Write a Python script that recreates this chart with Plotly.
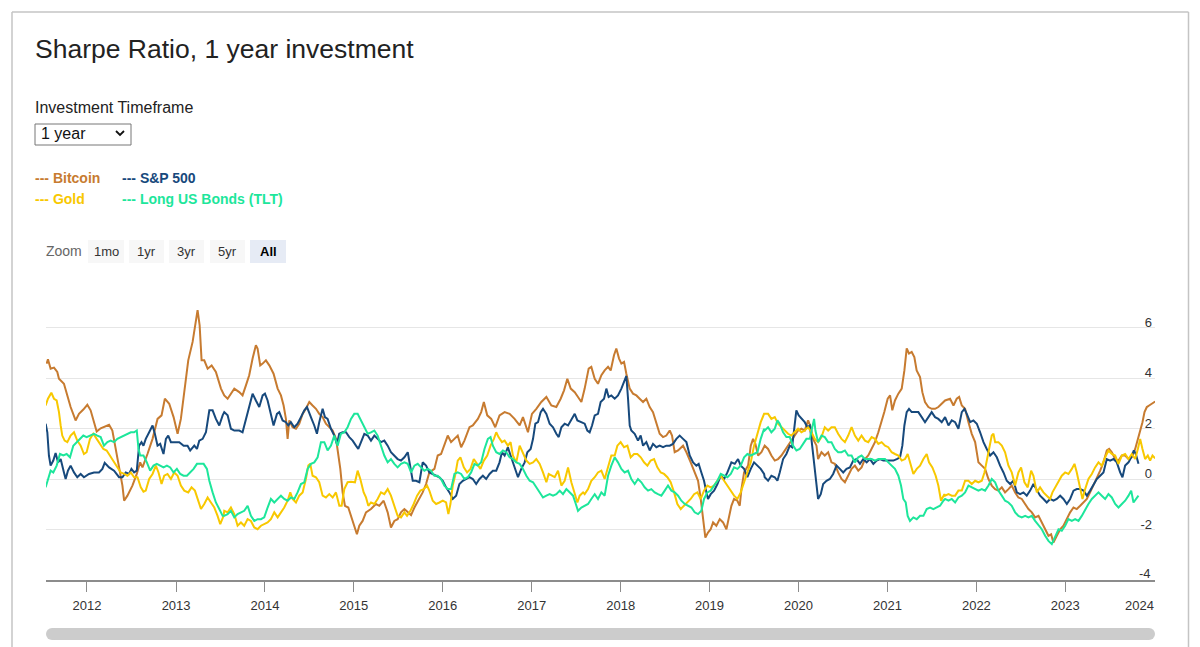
import pandas as pd
import plotly.graph_objects as go

# ---------------- data (decimal years, Sharpe ratio) ----------------
btc_t = [2011.546, 2011.561, 2011.591, 2011.629, 2011.666, 2011.685, 2011.741, 2011.779, 2011.816, 2011.872,
         2011.91, 2011.959, 2012.004, 2012.041, 2012.079, 2012.109, 2012.154, 2012.248, 2012.285, 2012.323,
         2012.372, 2012.398, 2012.417, 2012.454, 2012.51, 2012.559, 2012.597, 2012.623, 2012.679, 2012.736,
         2012.792, 2012.837, 2012.874, 2012.923, 2012.972, 2013.017, 2013.054, 2013.092, 2013.137, 2013.186,
         2013.223, 2013.242, 2013.265, 2013.287, 2013.317, 2013.355, 2013.40, 2013.448, 2013.505,
         2013.542, 2013.58, 2013.617, 2013.655, 2013.711, 2013.748, 2013.786, 2013.823, 2013.861, 2013.898,
         2013.917, 2013.947, 2013.974, 2014.011, 2014.049, 2014.097, 2014.143, 2014.18, 2014.21, 2014.236,
         2014.255, 2014.274, 2014.311, 2014.349, 2014.386, 2014.424, 2014.461, 2014.499, 2014.536, 2014.574,
         2014.611, 2014.649, 2014.686, 2014.724, 2014.762, 2014.8, 2014.825, 2014.848, 2014.874, 2014.9,
         2014.938, 2014.968, 2015.005, 2015.035, 2015.062, 2015.099, 2015.137, 2015.193, 2015.249, 2015.287,
         2015.336, 2015.381, 2015.418, 2015.456, 2015.493, 2015.531,
         2015.569, 2015.607, 2015.644, 2015.682, 2015.738, 2015.775, 2015.813, 2015.85, 2015.907, 2015.944,
         2015.982, 2016.019, 2016.057, 2016.094, 2016.132, 2016.169, 2016.207, 2016.244, 2016.301, 2016.338,
         2016.395, 2016.432, 2016.462, 2016.5, 2016.545, 2016.59, 2016.638, 2016.695, 2016.751, 2016.807,
         2016.864, 2016.901, 2016.957, 2017.002, 2017.051, 2017.107, 2017.164, 2017.22, 2017.276, 2017.325,
         2017.363, 2017.4, 2017.438, 2017.483, 2017.52, 2017.558,
         2017.595, 2017.64, 2017.67, 2017.708, 2017.745, 2017.783, 2017.82, 2017.858, 2017.888, 2017.925,
         2017.951, 2017.982, 2018.008, 2018.038, 2018.064, 2018.102, 2018.139, 2018.177, 2018.214, 2018.252,
         2018.289, 2018.327, 2018.364, 2018.402, 2018.439, 2018.477, 2018.514, 2018.552, 2018.578, 2018.608,
         2018.646, 2018.702, 2018.74, 2018.788, 2018.833, 2018.871, 2018.901, 2018.927, 2018.953, 2018.983,
         2019.013, 2019.04, 2019.077, 2019.115, 2019.152, 2019.19, 2019.216, 2019.246, 2019.276, 2019.313,
         2019.34, 2019.359, 2019.389, 2019.434, 2019.464, 2019.49, 2019.516, 2019.546, 2019.584,
         2019.621, 2019.659, 2019.696, 2019.734, 2019.771, 2019.809, 2019.846, 2019.884, 2019.921, 2019.959,
         2019.996, 2020.034, 2020.071, 2020.109, 2020.139, 2020.165, 2020.203, 2020.221, 2020.259, 2020.296,
         2020.334, 2020.371, 2020.409, 2020.446, 2020.484, 2020.522, 2020.559, 2020.597, 2020.634, 2020.672,
         2020.709, 2020.747, 2020.784, 2020.822, 2020.859, 2020.897, 2020.927, 2020.964, 2021.002, 2021.029,
         2021.054, 2021.084, 2021.122, 2021.16, 2021.19, 2021.216, 2021.242, 2021.272, 2021.302, 2021.328,
         2021.366, 2021.392, 2021.422, 2021.46, 2021.497, 2021.535, 2021.572, 2021.61,
         2021.648, 2021.704, 2021.742, 2021.779, 2021.806, 2021.836, 2021.873, 2021.911, 2021.948, 2021.986,
         2022.023, 2022.061, 2022.098, 2022.136, 2022.173, 2022.211, 2022.248, 2022.286, 2022.323, 2022.361,
         2022.398, 2022.436, 2022.473, 2022.511, 2022.549, 2022.586, 2022.624, 2022.661, 2022.699, 2022.736,
         2022.774, 2022.811, 2022.841, 2022.867, 2022.905, 2022.943, 2022.98, 2023.018, 2023.055, 2023.093,
         2023.13, 2023.168, 2023.205, 2023.243, 2023.28, 2023.318, 2023.355, 2023.393, 2023.43, 2023.468,
         2023.494, 2023.524, 2023.562, 2023.599, 2023.637, 2023.674, 2023.712, 2023.749, 2023.787, 2023.817,
         2023.843, 2023.869, 2023.892, 2023.918, 2023.944, 2023.974, 2024.012]
btc_v = [4.57, 4.74, 4.37, 4.41, 4.24, 3.97, 3.77, 3.31, 2.85, 2.32,
         2.58, 2.75, 2.94, 2.72, 2.23, 1.88, 2.01, 2.15, 1.92, 1.19,
         0.40, -0.26, -0.86, -0.66, -0.26, 0.20, 0.66, 0.46, 0.99, 1.59,
         2.38, 2.52, 3.18, 2.98, 2.45, 1.79, 2.38, 3.44, 4.70, 5.43,
         6.23, 6.69, 6.09, 4.70, 4.70, 4.37, 4.50, 4.24, 3.58,
         3.31, 3.18, 3.38, 3.58, 3.44, 3.31, 3.71, 4.11, 4.77, 5.30,
         5.17, 4.50, 4.57, 4.70, 4.50, 4.17, 3.58, 3.31, 2.91, 2.38,
         1.59, 2.32, 2.05, 1.99, 2.19, 2.58, 2.78, 3.05, 2.91, 2.78,
         2.58, 2.45, 2.19, 2.05, 1.92, 1.59, 1.06, 0.40, -0.53, -1.06,
         -1.13, -1.46, -1.85, -2.19, -1.85, -1.66, -1.32, -1.19, -0.99, -1.06,
         -0.86, -1.32, -1.92, -1.66, -1.59, -1.32,
         -1.19, -1.32, -1.43, -1.13, -0.79, -0.53, -0.20, 0.26, 0.40, 0.93,
         0.99, 1.32, 1.72, 1.46, 1.59, 1.72, 1.26, 1.52, 2.05, 2.12,
         2.38, 2.65, 3.05, 2.52, 2.38, 2.05, 2.52, 2.65, 2.58, 2.38,
         2.12, 2.45, 1.85, 2.58, 2.78, 3.05, 3.25, 2.91, 2.85, 3.18,
         3.51, 3.97, 3.58, 3.44, 3.25, 3.05,
         3.58, 4.37, 4.44, 3.97, 3.77, 4.11, 4.30, 4.44, 4.30, 4.90,
         5.17, 4.77, 4.57, 4.64, 4.17, 3.58, 3.38, 3.31, 3.18, 3.05,
         3.18, 2.85, 2.65, 2.19, 1.79, 1.66, 1.72, 1.92, 1.72, 1.06,
         1.13, 1.32, 1.06, 0.66, 0.26, -0.07, -0.79, -1.59, -2.32, -2.12,
         -1.99, -1.72, -1.85, -1.59, -1.72, -1.99, -1.59, -1.06, -0.79, -0.86,
         -1.06, -0.40, 0.26, 0.53, 1.32, 1.59, 1.39, 0.93, 1.06,
         1.32, 1.19, 0.93, 0.73, 0.79, 0.93, 1.13, 1.32, 1.52, 1.72,
         1.92, 1.99, 1.92, 2.32, 2.05, 1.59, 1.32, 0.79, 1.06, 0.93,
         1.06, 0.66, 0.60, 0.26, 0.00, -0.13, 0.13, 0.40, 0.53, 0.33,
         0.46, 0.79, 0.93, 1.19, 1.46, 1.85, 2.19, 2.65, 3.18, 3.31,
         2.72, 3.11, 3.38, 3.58, 4.30, 5.17, 4.97, 5.03, 4.83, 4.30,
         4.04, 3.44, 3.05, 2.85, 2.78, 2.78, 2.85, 2.98,
         3.11, 3.18, 2.91, 3.18, 3.25, 2.91, 2.78, 2.25, 1.79, 1.46,
         0.66, 0.53, 0.40, 0.00, -0.26, -0.40, -0.46, -0.33, -0.53, -0.40,
         -0.26, -0.53, -0.73, -0.79, -0.99, -1.19, -1.32, -1.52, -1.46, -1.72,
         -1.99, -2.25, -2.19, -2.52, -2.25, -1.99, -1.85, -1.59, -1.32, -1.13,
         -1.19, -1.06, -0.93, -0.79, -0.53, -0.26, 0.00, 0.33, 0.66, 1.13,
         1.19, 1.06, 0.79, 0.73, 0.93, 0.93, 0.79, 0.86, 1.19, 1.59,
         1.85, 2.25, 2.65, 2.85, 2.91, 2.98, 3.07]

spx_t = [2011.535, 2011.554, 2011.572, 2011.591, 2011.621, 2011.647, 2011.674, 2011.704, 2011.741, 2011.76,
         2011.786, 2011.816, 2011.854, 2011.891, 2011.929, 2011.966, 2012.023, 2012.079, 2012.135, 2012.173,
         2012.199, 2012.248, 2012.304, 2012.36, 2012.398, 2012.435, 2012.473, 2012.499, 2012.529, 2012.559,
         2012.585, 2012.612, 2012.634, 2012.66, 2012.698, 2012.736, 2012.762, 2012.792, 2012.822, 2012.859,
         2012.886, 2012.912, 2012.942, 2012.987, 2013.036, 2013.085, 2013.129, 2013.159, 2013.205, 2013.235,
         2013.261, 2013.299, 2013.336, 2013.374, 2013.411, 2013.448, 2013.486, 2013.524,
         2013.542, 2013.58, 2013.617, 2013.655, 2013.711, 2013.748, 2013.786, 2013.823, 2013.861, 2013.898,
         2013.936, 2013.974, 2014.0, 2014.03, 2014.067, 2014.097, 2014.135, 2014.161, 2014.199, 2014.236,
         2014.262, 2014.292, 2014.33, 2014.367, 2014.405, 2014.443, 2014.473, 2014.499, 2014.525, 2014.555,
         2014.585, 2014.611, 2014.649, 2014.675, 2014.705, 2014.743, 2014.78, 2014.81, 2014.836, 2014.874,
         2014.912, 2014.949, 2014.987, 2015.024, 2015.05, 2015.081, 2015.118, 2015.156, 2015.193, 2015.231,
         2015.268, 2015.306, 2015.343, 2015.381, 2015.418, 2015.456, 2015.493, 2015.531,
         2015.569, 2015.607, 2015.625, 2015.644, 2015.663, 2015.7, 2015.738, 2015.775, 2015.813, 2015.85,
         2015.888, 2015.926, 2015.963, 2016.001, 2016.038, 2016.076, 2016.113, 2016.151, 2016.188, 2016.226,
         2016.263, 2016.301, 2016.338, 2016.376, 2016.413, 2016.451, 2016.488, 2016.526, 2016.563, 2016.601,
         2016.638, 2016.665, 2016.695, 2016.732, 2016.762, 2016.788, 2016.826, 2016.845, 2016.882, 2016.92,
         2016.95, 2016.987, 2017.014, 2017.04, 2017.07, 2017.1, 2017.126, 2017.164, 2017.201, 2017.239,
         2017.276, 2017.303, 2017.333, 2017.37, 2017.408, 2017.445, 2017.483, 2017.513, 2017.551,
         2017.595, 2017.625, 2017.651, 2017.678, 2017.708, 2017.745, 2017.775, 2017.813, 2017.839, 2017.865,
         2017.895, 2017.933, 2017.97, 2018.008, 2018.038, 2018.064, 2018.083, 2018.102, 2018.12, 2018.158,
         2018.195, 2018.225, 2018.252, 2018.289, 2018.327, 2018.364, 2018.402, 2018.439, 2018.477, 2018.514,
         2018.552, 2018.589, 2018.627, 2018.664, 2018.702, 2018.74, 2018.777, 2018.815, 2018.852, 2018.878,
         2018.908, 2018.938, 2018.965, 2018.983, 2019.013, 2019.051, 2019.089, 2019.126, 2019.164, 2019.201,
         2019.246, 2019.284, 2019.321, 2019.351, 2019.389, 2019.426, 2019.464, 2019.501, 2019.539, 2019.576,
         2019.614,
         2019.621, 2019.659, 2019.696, 2019.734, 2019.764, 2019.79, 2019.828, 2019.865, 2019.903, 2019.929,
         2019.951, 2019.977, 2020.004, 2020.034, 2020.071, 2020.101, 2020.128, 2020.146, 2020.176, 2020.203,
         2020.221, 2020.251, 2020.278, 2020.315, 2020.353, 2020.39, 2020.428, 2020.465, 2020.503, 2020.54,
         2020.578, 2020.616, 2020.653, 2020.691, 2020.728, 2020.766, 2020.803, 2020.841, 2020.878, 2020.916,
         2020.953, 2020.991, 2021.029, 2021.066, 2021.104, 2021.141, 2021.167, 2021.19, 2021.216, 2021.242,
         2021.272, 2021.31, 2021.347, 2021.385, 2021.422, 2021.46, 2021.497, 2021.535, 2021.572, 2021.61,
         2021.648, 2021.686, 2021.723, 2021.761, 2021.798, 2021.836, 2021.866, 2021.892, 2021.93, 2021.967,
         2022.005, 2022.042, 2022.08, 2022.117, 2022.155, 2022.192, 2022.23, 2022.267, 2022.305, 2022.342,
         2022.38, 2022.417, 2022.455, 2022.492, 2022.53, 2022.567, 2022.605, 2022.642, 2022.68, 2022.717,
         2022.755, 2022.792, 2022.83, 2022.868, 2022.905, 2022.943, 2022.98, 2023.018, 2023.055, 2023.093,
         2023.13, 2023.168, 2023.205, 2023.243, 2023.28, 2023.318, 2023.355, 2023.393, 2023.43, 2023.468,
         2023.505, 2023.543, 2023.58, 2023.618, 2023.644, 2023.674, 2023.712, 2023.742, 2023.772, 2023.794,
         2023.824]
spx_v = [2.19, 1.85, 0.93, 0.53, 0.73, 1.03, 0.66, 0.79, 0.26, 0.00,
         0.33, 0.53, 0.26, 0.07, 0.20, 0.07, 0.20, 0.26, 0.26, 0.40,
         0.64, 0.46, 0.33, 0.07, 0.07, 0.26, 0.20, 0.40, 0.26, 0.33,
         1.32, 1.46, 1.32, 1.59, 1.85, 2.12, 1.79, 1.32, 1.39, 0.99,
         1.59, 1.72, 1.46, 1.46, 1.46, 1.32, 1.32, 1.13, 1.32, 1.19,
         1.52, 1.59, 1.85, 2.72, 2.72, 2.38, 2.12, 2.52,
         2.65, 2.52, 1.99, 1.92, 1.92, 1.85, 2.38, 2.78, 3.38, 3.11,
         2.85, 3.31, 3.38, 3.11, 2.58, 2.12, 2.58, 2.65, 2.32, 2.25,
         2.12, 2.25, 2.05, 2.19, 2.45, 2.72, 2.85, 2.65, 2.38, 2.12,
         1.79, 2.25, 2.78, 2.45, 2.38, 1.99, 1.72, 1.39, 1.79, 1.85,
         1.85, 1.66, 1.52, 1.32, 1.19, 1.46, 1.79, 1.72, 1.52, 1.72,
         1.59, 1.46, 1.52, 1.32, 1.06, 0.93, 0.79, 0.73,
         0.86, 1.06, 0.66, 0.33, -0.07, -0.07, -0.13, 0.66, 0.53, 0.26,
         0.20, 0.13, 0.07, -0.07, -0.33, -0.53, -0.79, -0.66, -0.20, -0.07,
         0.00, 0.07, 0.00, -0.20, 0.00, 0.13, 0.00, 0.20, 0.33, 0.33,
         0.66, 1.06, 0.93, 1.26, 0.93, 0.66, 0.26, 0.07, 0.40, 0.66,
         1.06, 1.19, 1.59, 2.19, 2.25, 2.65, 2.78, 2.58, 2.19, 2.05,
         1.79, 1.66, 2.05, 2.19, 2.12, 2.32, 2.58, 2.32, 2.25,
         2.19, 1.92, 1.85, 2.12, 2.52, 2.58, 3.05, 3.18, 3.58, 3.25,
         3.31, 3.18, 3.31, 3.58, 3.84, 4.08, 3.18, 2.12, 1.92, 1.79,
         1.52, 1.72, 1.32, 1.46, 1.13, 1.39, 1.26, 1.32, 1.26, 1.32,
         1.32, 1.39, 1.59, 1.72, 1.59, 1.46, 0.93, 0.66, 0.53, 0.60,
         0.26, -0.07, -0.53, -0.79, -0.60, -0.46, -0.20, 0.13, 0.00, 0.26,
         0.66, 0.60, 0.79, 0.53, 0.40, 0.07, 0.40, 0.66, 0.53, 0.40,
         0.20,
         0.07, -0.07, 0.13, 0.07, -0.07, 0.26, 0.79, 0.99, 1.32, 1.26,
         1.92, 2.72, 2.52, 2.38, 2.25, 2.05, 2.12, 1.59, 0.66, -0.26,
         -0.79, -0.60, -0.20, -0.07, 0.00, 0.20, 0.53, 0.40, 0.26, 0.40,
         0.46, 0.73, 0.79, 0.60, 0.79, 0.66, 0.79, 0.60, 0.73, 0.79,
         0.73, 0.73, 0.73, 0.73, 0.79, 0.86, 1.32, 2.12, 2.65, 2.78,
         2.65, 2.65, 2.65, 2.45, 2.25, 2.45, 2.65, 2.45, 2.38, 2.25,
         2.45, 2.12, 2.32, 2.25, 1.99, 2.65, 2.78, 2.58, 2.25, 2.32,
         2.19, 1.85, 1.46, 1.19, 0.93, 1.06, 0.86, 0.53, 0.26, -0.07,
         -0.20, -0.07, -0.53, -0.60, -0.53, -0.66, -0.46, -0.20, -0.46, -0.66,
         -0.79, -0.93, -0.79, -0.86, -0.79, -0.66, -0.79, -0.99, -0.79, -0.46,
         -0.40, -0.40, -0.46, -0.66, -0.46, -0.20, 0.00, 0.13, 0.26, 0.79,
         0.73, 0.79, 0.66, 0.26, 0.07, 0.53, 0.66, 0.86, 1.13, 0.99,
         0.60]

gold_t = [2011.535, 2011.561, 2011.599, 2011.629, 2011.659, 2011.685, 2011.704, 2011.722, 2011.749, 2011.779,
          2011.816, 2011.854, 2011.891, 2011.929, 2011.966, 2011.996, 2012.034, 2012.071, 2012.109, 2012.147,
          2012.184, 2012.221, 2012.259, 2012.304, 2012.341, 2012.379, 2012.417, 2012.454, 2012.492, 2012.529,
          2012.567, 2012.604, 2012.634, 2012.66, 2012.698, 2012.736, 2012.773, 2012.803, 2012.837, 2012.867,
          2012.904, 2012.942, 2012.979, 2013.017, 2013.054, 2013.092, 2013.137, 2013.174, 2013.212, 2013.25,
          2013.28, 2013.317, 2013.355, 2013.392, 2013.43, 2013.467, 2013.497, 2013.535,
          2013.542, 2013.58, 2013.617, 2013.655, 2013.692, 2013.73, 2013.767, 2013.805, 2013.842, 2013.88,
          2013.917, 2013.955, 2013.992, 2014.03, 2014.067, 2014.105, 2014.143, 2014.18, 2014.217, 2014.255,
          2014.285, 2014.311, 2014.349, 2014.386, 2014.424, 2014.461, 2014.488, 2014.51, 2014.536, 2014.574,
          2014.611, 2014.649, 2014.686, 2014.724, 2014.762, 2014.799, 2014.837, 2014.863, 2014.893, 2014.93,
          2014.968, 2015.013, 2015.043, 2015.073, 2015.111, 2015.137, 2015.163, 2015.193, 2015.231, 2015.268,
          2015.306, 2015.343, 2015.381, 2015.418, 2015.456, 2015.493, 2015.531,
          2015.569, 2015.599, 2015.637, 2015.674, 2015.712, 2015.749, 2015.787, 2015.824, 2015.85, 2015.888,
          2015.926, 2015.963, 2016.001, 2016.038, 2016.064, 2016.087, 2016.113, 2016.139, 2016.169, 2016.199,
          2016.237, 2016.274, 2016.312, 2016.349, 2016.387, 2016.424, 2016.462, 2016.5, 2016.537, 2016.575,
          2016.601, 2016.627, 2016.665, 2016.695, 2016.732, 2016.762, 2016.788, 2016.826, 2016.864, 2016.901,
          2016.939, 2016.976, 2017.014, 2017.051, 2017.089, 2017.126, 2017.164, 2017.19, 2017.22, 2017.258,
          2017.295, 2017.333, 2017.37, 2017.408, 2017.445, 2017.483, 2017.513, 2017.539, 2017.577,
          2017.595, 2017.633, 2017.67, 2017.708, 2017.745, 2017.783, 2017.82, 2017.858, 2017.895, 2017.933,
          2017.963, 2018.0, 2018.038, 2018.076, 2018.113, 2018.151, 2018.188, 2018.226, 2018.263, 2018.301,
          2018.338, 2018.376, 2018.413, 2018.451, 2018.488, 2018.526, 2018.563, 2018.601, 2018.638, 2018.676,
          2018.713, 2018.751, 2018.788, 2018.826, 2018.863, 2018.901, 2018.938, 2018.976, 2019.013, 2019.051,
          2019.089, 2019.126, 2019.164, 2019.201, 2019.239, 2019.276, 2019.314, 2019.351, 2019.389, 2019.426,
          2019.464, 2019.501, 2019.539, 2019.576, 2019.614,
          2019.621, 2019.659, 2019.696, 2019.734, 2019.771, 2019.809, 2019.846, 2019.884, 2019.921, 2019.959,
          2019.996, 2020.034, 2020.071, 2020.109, 2020.146, 2020.184, 2020.221, 2020.259, 2020.296, 2020.334,
          2020.371, 2020.409, 2020.446, 2020.484, 2020.522, 2020.559, 2020.597, 2020.634, 2020.672, 2020.709,
          2020.747, 2020.784, 2020.822, 2020.859, 2020.897, 2020.934, 2020.972, 2021.009, 2021.047, 2021.084,
          2021.122, 2021.16, 2021.197, 2021.227, 2021.253, 2021.291, 2021.329, 2021.366, 2021.404, 2021.441,
          2021.467, 2021.505, 2021.542, 2021.572, 2021.602, 2021.64,
          2021.648, 2021.686, 2021.723, 2021.761, 2021.798, 2021.836, 2021.873, 2021.911, 2021.948, 2021.986,
          2022.023, 2022.061, 2022.091, 2022.117, 2022.143, 2022.173, 2022.192, 2022.211, 2022.248, 2022.286,
          2022.323, 2022.361, 2022.398, 2022.436, 2022.473, 2022.503, 2022.541, 2022.578, 2022.616, 2022.642,
          2022.68, 2022.717, 2022.755, 2022.792, 2022.83, 2022.856, 2022.886, 2022.924, 2022.961, 2022.999,
          2023.036, 2023.074, 2023.104, 2023.13, 2023.168, 2023.194, 2023.224, 2023.261, 2023.299, 2023.336,
          2023.374, 2023.411, 2023.449, 2023.486, 2023.524, 2023.562, 2023.599, 2023.637, 2023.674, 2023.712,
          2023.749, 2023.787, 2023.817, 2023.843, 2023.869, 2023.899, 2023.929, 2023.955, 2023.982, 2024.012]
gold_v = [2.91, 3.18, 3.42, 3.18, 3.11, 2.65, 2.12, 1.72, 1.52, 1.46,
          1.72, 1.85, 1.52, 1.32, 0.99, 1.06, 1.59, 1.79, 1.59, 1.39,
          1.19, 1.13, 0.93, 0.66, 0.46, 0.26, 0.20, 0.13, 0.26, 0.07,
          0.07, -0.33, -0.50, -0.46, 0.00, 0.20, 0.53, 0.26, -0.20, 0.13,
          0.20, 0.00, 0.26, 0.13, -0.26, -0.46, -0.53, -0.33, -0.46, -0.86,
          -1.19, -0.99, -0.73, -0.93, -1.13, -1.46, -1.79, -1.46,
          -1.26, -1.32, -1.13, -1.39, -1.85, -1.72, -1.85, -1.59, -1.66, -1.92,
          -1.99, -1.85, -1.79, -1.72, -1.59, -1.32, -1.52, -1.32, -1.13, -0.86,
          -0.53, -0.79, -0.93, -0.66, -0.53, 0.00, 0.53, 0.60, 0.13, 0.07,
          -0.13, -0.66, -0.73, -0.60, -0.73, -0.53, -1.06, -1.06, -0.40, -0.13,
          -0.11, -0.13, 0.33, 0.00, -0.53, -0.73, -1.06, -0.93, -0.99, -0.79,
          -0.53, -0.60, -0.40, -0.66, -1.06, -1.46, -1.52,
          -1.32, -1.46, -1.26, -0.99, -0.66, -0.46, -0.40, -0.26, -0.46, -0.86,
          -0.99, -0.93, -0.86, -0.93, -1.39, -0.99, -0.26, 0.13, 0.73, 0.86,
          0.46, 0.26, 0.40, 0.79, 0.60, 0.40, 0.73, 0.93, 1.32, 1.59,
          1.85, 1.66, 1.46, 1.52, 1.32, 1.46, 0.93, 0.66, 1.32, 0.99,
          0.73, 0.60, 0.66, 0.79, 0.60, 0.26, -0.13, 0.20, 0.13, 0.07,
          0.33, -0.26, -0.07, 0.46, -0.13, -0.53, -0.93, -0.66, -0.53,
          -0.60, -0.40, -0.07, 0.07, 0.26, 0.33, 0.00, 0.46, 0.93, 0.93,
          1.32, 1.46, 1.26, 1.32, 0.86, 0.99, 0.99, 0.86, 0.66, 0.53,
          0.73, 0.79, 0.46, 0.26, 0.20, 0.07, -0.13, -0.53, -0.99, -1.19,
          -1.06, -0.93, -0.79, -0.60, -0.53, -0.79, -0.46, -0.26, -0.33, -0.26,
          -0.07, 0.13, -0.07, -0.26, -0.46, -0.66, -0.79, -0.53, -0.13, 0.26,
          0.66, 1.32, 1.85, 2.25, 2.58,
          2.58, 2.58, 2.38, 2.45, 2.19, 2.05, 1.92, 1.79, 1.72, 1.85,
          1.99, 1.85, 1.92, 2.05, 1.85, 1.59, 1.46, 1.66, 2.05, 1.92,
          2.05, 2.05, 1.79, 1.59, 1.46, 1.72, 2.05, 1.72, 1.52, 1.72,
          1.52, 1.46, 1.66, 1.59, 1.39, 1.46, 1.32, 1.26, 1.06, 0.99,
          0.93, 0.73, 0.79, 0.99, 0.66, 0.20, 0.40, 0.53, 0.79, 0.99,
          0.66, 0.46, 0.13, -0.26, -0.86, -0.60,
          -0.66, -0.60, -0.66, -0.66, -0.46, -0.46, -0.07, -0.07, -0.20, -0.07,
          -0.13, -0.07, 0.26, 0.66, 1.19, 1.72, 1.79, 1.46, 1.46, 1.32,
          1.06, 0.53, 0.26, -0.26, 0.26, 0.46, -0.13, -0.33, 0.33, 0.13,
          -0.53, -0.33, -0.53, -0.66, -0.79, -0.53, -0.33, -0.07, 0.13, 0.26,
          0.20, 0.40, 0.60, 0.26, -0.33, -0.79, -0.40, 0.00, 0.20, 0.46,
          0.66, 0.53, 0.86, 1.13, 0.99, 0.93, 0.60, 0.93, 0.99, 0.79,
          0.99, 0.79, 1.19, 1.59, 1.19, 0.79, 0.93, 0.73, 0.93, 0.82]

tlt_t = [2011.535, 2011.561, 2011.591, 2011.621, 2011.659, 2011.696, 2011.734, 2011.771, 2011.809, 2011.846,
         2011.884, 2011.921, 2011.959, 2011.996, 2012.041, 2012.079, 2012.116, 2012.154, 2012.191, 2012.229,
         2012.266, 2012.304, 2012.341, 2012.379, 2012.417, 2012.454, 2012.492, 2012.529, 2012.559, 2012.578,
         2012.597, 2012.634, 2012.672, 2012.709, 2012.747, 2012.784, 2012.822, 2012.859, 2012.897, 2012.934,
         2012.972, 2013.009, 2013.047, 2013.084, 2013.122, 2013.159, 2013.197, 2013.235, 2013.272, 2013.31,
         2013.347, 2013.374, 2013.411, 2013.448, 2013.486, 2013.524,
         2013.542, 2013.58, 2013.617, 2013.655, 2013.692, 2013.73, 2013.767, 2013.805, 2013.842, 2013.88,
         2013.917, 2013.955, 2013.992, 2014.03, 2014.067, 2014.105, 2014.142, 2014.18, 2014.217, 2014.255,
         2014.293, 2014.33, 2014.367, 2014.405, 2014.443, 2014.48, 2014.518, 2014.555, 2014.593, 2014.63,
         2014.668, 2014.705, 2014.743, 2014.78, 2014.818, 2014.855, 2014.893, 2014.93, 2014.968, 2015.005,
         2015.043, 2015.081, 2015.118, 2015.156, 2015.193, 2015.231, 2015.268, 2015.306, 2015.343, 2015.381,
         2015.418, 2015.456, 2015.493, 2015.531,
         2015.569, 2015.607, 2015.644, 2015.682, 2015.719, 2015.757, 2015.794, 2015.832, 2015.869, 2015.907,
         2015.944, 2015.982, 2016.019, 2016.057, 2016.094, 2016.132, 2016.169, 2016.207, 2016.244, 2016.282,
         2016.319, 2016.357, 2016.394, 2016.432, 2016.469, 2016.507, 2016.537, 2016.563, 2016.601, 2016.638,
         2016.676, 2016.713, 2016.751, 2016.788, 2016.826, 2016.864, 2016.901, 2016.939, 2016.976, 2017.014,
         2017.051, 2017.089, 2017.126, 2017.164, 2017.201, 2017.239, 2017.276, 2017.314, 2017.351, 2017.389,
         2017.426, 2017.464, 2017.49, 2017.52, 2017.558,
         2017.595, 2017.633, 2017.67, 2017.708, 2017.745, 2017.783, 2017.82, 2017.858, 2017.895, 2017.933,
         2017.97, 2018.008, 2018.045, 2018.083, 2018.12, 2018.158, 2018.195, 2018.233, 2018.27, 2018.308,
         2018.345, 2018.383, 2018.42, 2018.458, 2018.496, 2018.533, 2018.571, 2018.608, 2018.646, 2018.683,
         2018.721, 2018.758, 2018.796, 2018.833, 2018.871, 2018.908, 2018.938, 2018.976, 2019.013, 2019.051,
         2019.089, 2019.126, 2019.164, 2019.201, 2019.239, 2019.276, 2019.314, 2019.351, 2019.389, 2019.426,
         2019.464, 2019.501, 2019.539, 2019.576, 2019.614,
         2019.621, 2019.659, 2019.696, 2019.734, 2019.764, 2019.79, 2019.828, 2019.865, 2019.903, 2019.94,
         2019.978, 2020.015, 2020.053, 2020.09, 2020.128, 2020.154, 2020.176, 2020.191, 2020.221, 2020.259,
         2020.296, 2020.334, 2020.371, 2020.409, 2020.446, 2020.484, 2020.522, 2020.559, 2020.597, 2020.634,
         2020.672, 2020.709, 2020.747, 2020.784, 2020.822, 2020.859, 2020.897, 2020.934, 2020.972, 2021.009,
         2021.047, 2021.084, 2021.122, 2021.152, 2021.178, 2021.205, 2021.227, 2021.253, 2021.291, 2021.329,
         2021.366, 2021.404, 2021.441, 2021.479, 2021.516, 2021.554, 2021.591, 2021.629,
         2021.648, 2021.686, 2021.723, 2021.761, 2021.798, 2021.836, 2021.873, 2021.911, 2021.948, 2021.986,
         2022.023, 2022.061, 2022.098, 2022.136, 2022.173, 2022.211, 2022.248, 2022.286, 2022.323, 2022.361,
         2022.398, 2022.436, 2022.473, 2022.511, 2022.549, 2022.586, 2022.624, 2022.661, 2022.699, 2022.736,
         2022.774, 2022.811, 2022.849, 2022.886, 2022.924, 2022.961, 2022.999, 2023.036, 2023.074, 2023.111,
         2023.149, 2023.186, 2023.224, 2023.261, 2023.299, 2023.336, 2023.374, 2023.411, 2023.449, 2023.486,
         2023.524, 2023.562, 2023.599, 2023.637, 2023.674, 2023.712, 2023.742, 2023.768, 2023.794, 2023.824]
tlt_v = [-0.33, 0.00, 0.33, 0.26, 0.53, 0.99, 0.93, 0.99, 0.86, 1.32,
         1.46, 1.59, 1.72, 1.66, 1.72, 1.79, 1.72, 1.66, 1.32, 1.46,
         1.52, 1.46, 1.59, 1.66, 1.72, 1.79, 1.85, 1.85, 1.92, 1.19,
         0.93, 0.93, 0.66, 0.33, 0.53, 0.60, 0.53, 0.46, 0.53, 0.46,
         0.26, 0.40, 0.20, 0.13, 0.13, 0.26, 0.40, 0.60, 0.60, 0.60,
         0.40, -0.07, -0.53, -0.93, -1.19, -1.46,
         -1.46, -1.39, -1.26, -1.52, -1.39, -1.32, -1.26, -1.06, -1.46, -1.66,
         -1.59, -1.59, -1.52, -1.13, -0.79, -0.93, -0.79, -0.66, -0.79, -0.86,
         -0.73, -0.79, -0.53, -0.20, -0.13, 0.40, 0.60, 0.66, 0.86, 1.46,
         1.46, 1.13, 1.32, 1.72, 1.32, 1.79, 1.85, 2.05, 2.38, 2.58,
         2.58, 2.32, 2.05, 1.79, 1.85, 1.92, 1.72, 1.32, 0.93, 0.66,
         0.79, 0.60, 0.46, 0.60,
         0.66, 0.60, 0.26, 0.53, 0.60, 0.46, 0.33, 0.40, 0.33, 0.13,
         0.13, 0.00, -0.26, -0.40, -0.40, 0.20, 0.26, 0.20, 0.00, 0.07,
         0.26, 0.60, 0.53, 0.66, 1.19, 1.59, 1.66, 1.32, 1.06, 0.99,
         1.13, 1.06, 0.86, 0.79, 0.66, 0.60, 0.40, 0.13, -0.07, -0.13,
         -0.33, -0.53, -0.73, -0.66, -0.60, -0.66, -0.60, -0.46, -0.60, -0.40,
         -0.53, -0.66, -0.93, -1.26, -1.13,
         -1.06, -0.99, -0.79, -0.60, -0.79, -0.53, -0.66, 0.13, 0.53, 0.86,
         0.66, 0.40, 0.26, 0.33, 0.00, -0.20, 0.00, -0.13, -0.33, -0.46,
         -0.40, -0.53, -0.60, -0.66, -0.46, -0.26, -0.46, -0.53, -0.66, -0.86,
         -0.99, -1.06, -1.13, -1.32, -1.39, -1.26, -0.79, -0.53, -0.46, -0.26,
         -0.07, 0.20, 0.13, 0.07, 0.20, 0.46, 0.40, 0.53, 0.86, 0.99,
         0.93, 0.99, 1.06, 1.59, 1.99,
         1.92, 2.05, 1.85, 1.99, 2.32, 2.19, 1.85, 1.66, 1.66, 1.32,
         1.13, 1.19, 1.39, 1.59, 1.59, 1.99, 2.38, 1.92, 1.46, 1.72,
         1.66, 1.46, 1.46, 1.19, 1.06, 1.06, 1.13, 0.93, 0.93, 0.66,
         0.86, 0.93, 0.79, 0.79, 0.79, 0.73, 0.79, 0.79, 0.79, 0.66,
         0.53, 0.40, 0.13, -0.26, -0.79, -0.93, -1.46, -1.66, -1.52, -1.59,
         -1.46, -1.46, -1.19, -1.13, -1.19, -1.13, -1.06, -0.86,
         -0.79, -0.86, -0.79, -0.93, -0.73, -0.66, -0.53, -0.26, -0.33, -0.40,
         -0.46, -0.40, -0.46, -0.26, 0.00, -0.13, -0.46, -0.66, -0.86, -0.93,
         -1.06, -1.32, -1.46, -1.52, -1.46, -1.52, -1.46, -1.66, -1.85, -1.99,
         -2.25, -2.45, -2.58, -2.25, -1.99, -2.05, -1.85, -1.59, -1.66, -1.59,
         -1.66, -1.46, -1.19, -0.99, -0.79, -0.66, -0.53, -0.66, -0.79, -0.60,
         -0.73, -0.99, -1.13, -0.99, -0.86, -0.66, -0.46, -0.93, -0.79, -0.66]

series_names = ["Bitcoin", "S&P 500", "Gold", "Long US Bonds (TLT)"]
series_colors = ["#C77B30", "#17497C", "#F8C800", "#1DE69B"]
year_ticks = list(range(2012, 2025))
y_ticks = [-4, -2, 0, 2, 4, 6, 8]

# ---------------- helpers ----------------
def to_date(t):
    y = int(t)
    a = pd.Timestamp(year=y, month=1, day=1)
    b = pd.Timestamp(year=y + 1, month=1, day=1)
    return a + (t - y) * (b - a)

# plot area in pixels: x 46..1155, y 277..580
L, R, T, B = 46, 1155, 277, 580
def px(x):
    return (x - L) / (R - L)
def py(y):
    return (B - y) / (B - T)

FONT = "Liberation Sans, Arial, sans-serif"

fig = go.Figure()
for name, col, t, v in zip(series_names, series_colors,
                            [btc_t, spx_t, gold_t, tlt_t],
                            [btc_v, spx_v, gold_v, tlt_v]):
    fig.add_trace(go.Scatter(x=[to_date(a) for a in t], y=v, mode="lines", name=name,
                             line=dict(color=col, width=2), showlegend=False))

tickvals_x = [pd.Timestamp(year=y, month=1, day=1) for y in year_ticks]
ticktext_x = [str(y) if y != year_ticks[-1] else "" for y in year_ticks]
# lowest and highest y labels are handled separately (lowest drawn as annotation, highest hidden)
ticktext_y = ["" if v in (y_ticks[0], y_ticks[-1]) else str(v) for v in y_ticks]

fig.update_layout(
    width=1200, height=647,
    margin=dict(l=L, r=1200 - R, t=T, b=647 - B),
    paper_bgcolor="white", plot_bgcolor="white",
    font=dict(family=FONT, color="#333333", size=13),
    xaxis=dict(type="date", range=[to_date(2011.539), to_date(2024.01)],
               tickvals=tickvals_x, ticktext=ticktext_x,
               showgrid=False, showline=True, linecolor="#8c8c8c", linewidth=1.5,
               ticks="outside", ticklen=10, tickcolor="#8c8c8c", tickwidth=1,
               ticklabelstandoff=3,
               tickfont=dict(size=13, color="#333333"), zeroline=False, fixedrange=True),
    yaxis=dict(range=[y_ticks[0], y_ticks[-1]], side="right", tickvals=y_ticks,
               ticktext=ticktext_y,
               ticklabelposition="inside top", ticks="", ticklabelshift=4,
               showgrid=True, gridcolor="#e6e6e6", gridwidth=1, zeroline=False,
               showline=False, tickfont=dict(size=13, color="#333333"), fixedrange=True),
    hovermode=False,
)

shapes = []
# outer frame
shapes.append(dict(type="line", xref="paper", yref="paper", x0=px(12), x1=px(12), y0=py(12), y1=py(660),
                   line=dict(color="#c4c4c4", width=1.5)))
shapes.append(dict(type="line", xref="paper", yref="paper", x0=px(12), x1=px(1188.5), y0=py(12), y1=py(12),
                   line=dict(color="#c4c4c4", width=1.5)))
shapes.append(dict(type="line", xref="paper", yref="paper", x0=px(1188.5), x1=px(1188.5), y0=py(12), y1=py(660),
                   line=dict(color="#c4c4c4", width=1.5)))
# dropdown box
shapes.append(dict(type="rect", xref="paper", yref="paper", x0=px(35), x1=px(131), y0=py(145), y1=py(124),
                   line=dict(color="#767676", width=1), fillcolor="white"))
chev = "M {},{} L {},{} L {},{}".format(px(116), py(131), px(120), py(135), px(124), py(131))
shapes.append(dict(type="path", xref="paper", yref="paper", path=chev, line=dict(color="#111111", width=1.8)))
# range selector buttons
buttons = [("1mo", 88, 124, False), ("1yr", 129, 164, False), ("3yr", 169, 204, False),
           ("5yr", 210, 245, False), ("All", 250, 286, True)]
for lab, x0, x1, sel in buttons:
    shapes.append(dict(type="rect", xref="paper", yref="paper", x0=px(x0), x1=px(x1), y0=py(263), y1=py(240),
                       line=dict(width=0), fillcolor="#e6ebf5" if sel else "#f7f7f7", layer="below"))
# scrollbar
shapes.append(dict(type="rect", xref="paper", yref="paper", x0=px(L + 6), x1=px(R - 6), y0=py(640), y1=py(628),
                   line=dict(width=0), fillcolor="#cccccc"))
shapes.append(dict(type="circle", xref="paper", yref="paper", x0=px(L), x1=px(L + 12), y0=py(640), y1=py(628),
                   line=dict(width=0), fillcolor="#cccccc"))
shapes.append(dict(type="circle", xref="paper", yref="paper", x0=px(R - 12), x1=px(R), y0=py(640), y1=py(628),
                   line=dict(width=0), fillcolor="#cccccc"))

ann = []
def text(x, y, s, size, color, anchor="left", bold=False, xr="paper", yr="paper"):
    ann.append(dict(xref=xr, yref=yr, x=px(x) if xr == "paper" else x, y=py(y) if yr == "paper" else y,
                    text=("<b>%s</b>" % s) if bold else s,
                    xanchor=anchor, yanchor="middle", showarrow=False,
                    font=dict(family=FONT, size=size, color=color), borderpad=0))

text(34, 49, "Sharpe Ratio, 1 year investment", 26.5, "#222222")
text(34, 107, "Investment Timeframe", 16, "#222222")
text(40, 134, "1 year", 16, "#111111")
text(34, 178, "--- " + series_names[0], 14, series_colors[0], bold=True)
text(121, 178, "--- " + series_names[1], 14, series_colors[1], bold=True)
text(34, 199, "--- " + series_names[2], 14, series_colors[2], bold=True)
text(121, 199, "--- " + series_names[3], 14, series_colors[3], bold=True)
text(45, 251, "Zoom", 14, "#666666")
for lab, x0, x1, sel in buttons:
    text((x0 + x1) / 2, 251, lab, 13, "#000000" if sel else "#333333", anchor="center", bold=sel)
text(1139, 605, str(year_ticks[-1]), 13, "#333333", anchor="center")
text(1152, 573, str(y_ticks[0]), 13, "#333333", anchor="right")

fig.update_layout(shapes=shapes, annotations=ann)
fig.write_html("out.html", config={"displayModeBar": False})
